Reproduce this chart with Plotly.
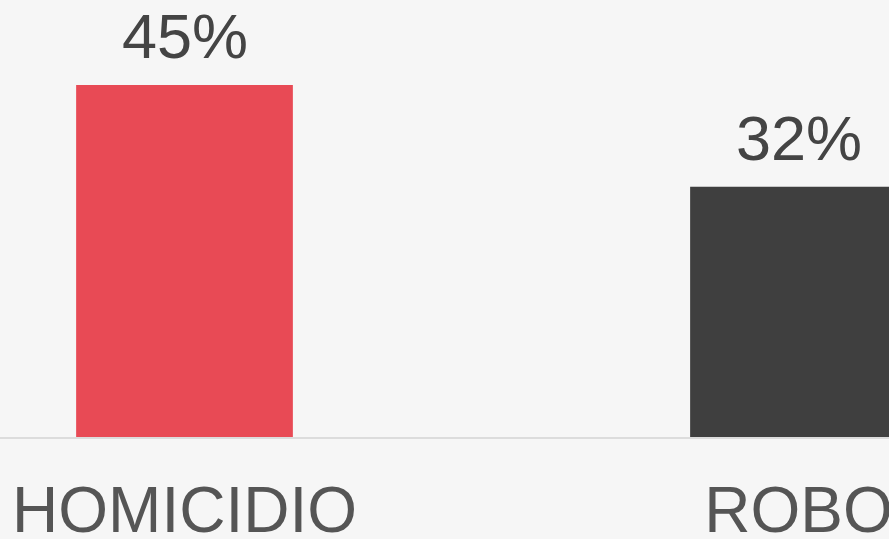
import plotly.graph_objects as go

categories = ["HOMICIDIO", "ROBO"]
values = [45, 32]
labels = ["45%", "32%"]
colors = ["#e84a55", "#3f3f3f"]

positions = list(range(len(categories)))

fig = go.Figure()
fig.add_trace(go.Bar(
    x=positions, y=values, width=0.353,
    marker=dict(color=colors, line=dict(width=0)),
    hoverinfo="skip",
))

for p, v, t in zip(positions, values, labels):
    fig.add_annotation(x=p, y=v, text=t, showarrow=False, yanchor="bottom",
                       yshift=12, font=dict(size=63, color="#444444",
                                            family="Arial, Liberation Sans, sans-serif"))

fig.update_layout(
    width=889, height=539,
    margin=dict(l=0, r=0, t=0, b=102, autoexpand=False),
    paper_bgcolor="#f6f6f6", plot_bgcolor="rgba(0,0,0,0)",
    showlegend=False,
    font=dict(family="Arial, Liberation Sans, sans-serif"),
)
fig.update_xaxes(
    range=[-0.3005, 1.1474],
    tickmode="array", tickvals=positions, ticktext=categories,
    tickfont=dict(size=64, color="#555555"),
    showgrid=False, zeroline=False, automargin=False,
    showline=True, linecolor="#dcdcdc", linewidth=2,
    ticks="", ticklabelstandoff=16, ticklabeloverflow="allow",
)
fig.update_yaxes(range=[0, 55.87], visible=False, showgrid=False, zeroline=False,
                 automargin=False)

post = """
var h = document.documentElement, b = document.body;
h.style.margin = '0'; h.style.padding = '0'; h.style.overflow = 'hidden';
b.style.margin = '0'; b.style.padding = '0'; b.style.overflow = 'hidden';
b.style.background = '#f6f6f6';
var gd = document.getElementById('{plot_id}');
gd.style.position = 'fixed'; gd.style.left = '0px'; gd.style.top = '0px';
"""

fig.write_html("out.html", config={"displayModeBar": False}, post_script=post)
